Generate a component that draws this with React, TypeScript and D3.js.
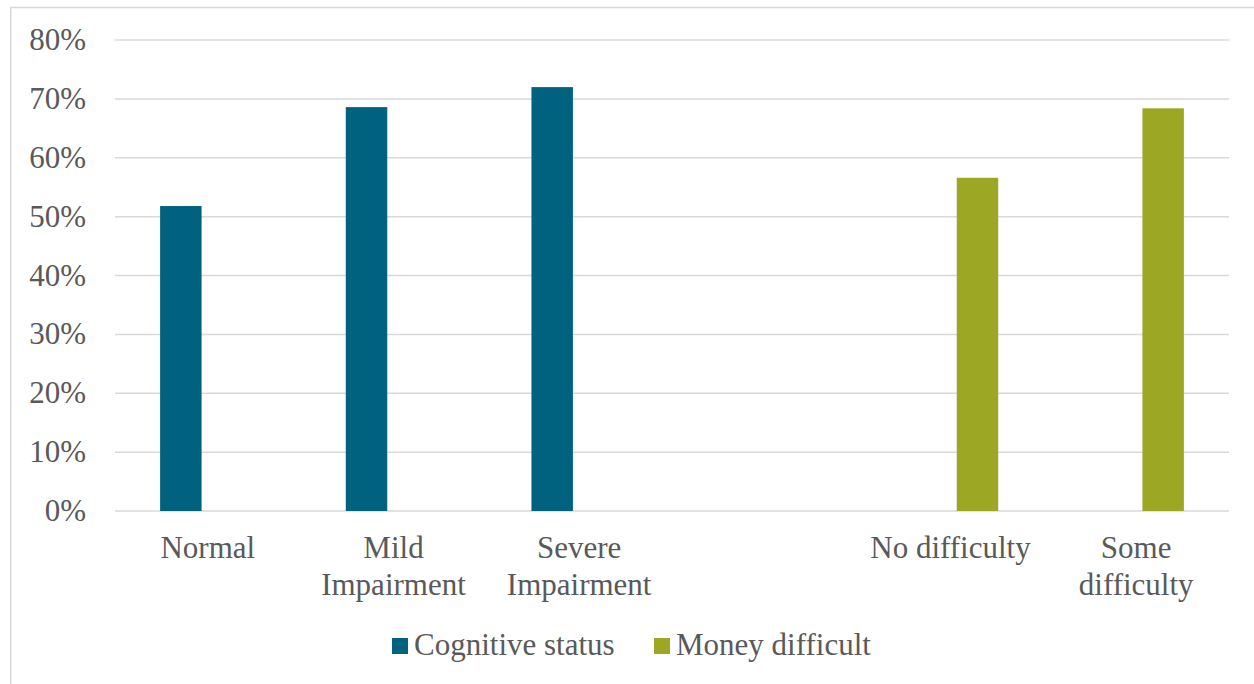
import { useEffect, useRef } from "react"
import * as d3 from "d3"

const categories = ["Normal", "Mild Impairment", "Severe Impairment", "", "No difficulty", "Some difficulty"]
const categoryLines = [["Normal"], ["Mild", "Impairment"], ["Severe", "Impairment"], [], ["No difficulty"], ["Some", "difficulty"]]
const seriesNames = ["Cognitive status", "Money difficult"]
const seriesColors = ["#00627F", "#9CA823"]
const cognitiveValues = [0.518, 0.686, 0.72, null, null, null]
const moneyValues = [null, null, null, null, 0.566, 0.684]
const yTicks = [0, 0.1, 0.2, 0.3, 0.4, 0.5, 0.6, 0.7, 0.8]

export default function App() {
  const svgRef = useRef<SVGSVGElement>(null)

  useEffect(() => {
    if (!svgRef.current) return
    const svg = d3.select(svgRef.current)
    svg.selectAll("*").remove()

    const width = 1254
    const height = 684
    const margin = { top: 40, right: 25, bottom: 173, left: 115 }
    const innerWidth = width - margin.left - margin.right
    const innerHeight = height - margin.top - margin.bottom
    const font = "Liberation Serif"
    const fontSize = "31px"
    const textColor = "#595959"

    // chart frame
    svg
      .append("rect")
      .attr("x", 10.75)
      .attr("y", 7.5)
      .attr("width", width + 20)
      .attr("height", height + 20)
      .attr("fill", "none")
      .attr("stroke", "#d9d9d9")
      .attr("stroke-width", 1.5)

    const x = d3.scaleBand().domain(categories.map((c, i) => c + i)).range([0, innerWidth]).padding(0)
    const clusterFrac = 0.514
    const sub = d3
      .scaleBand()
      .domain(seriesNames)
      .range([(x.bandwidth() * (1 - clusterFrac)) / 2, (x.bandwidth() * (1 + clusterFrac)) / 2])
      .paddingInner(0.2315)
      .paddingOuter(0)
    const y = d3.scaleLinear().domain([0, 0.8]).range([innerHeight, 0])

    const g = svg.append("g").attr("transform", `translate(${margin.left},${margin.top})`)

    // gridlines
    g.selectAll("line.grid")
      .data(yTicks)
      .join("line")
      .attr("class", "grid")
      .attr("x1", 0)
      .attr("x2", innerWidth)
      .attr("y1", (d) => y(d))
      .attr("y2", (d) => y(d))
      .attr("stroke", "#d9d9d9")
      .attr("stroke-width", 1.5)

    // y labels
    const fmt = d3.format(".0%")
    g.selectAll("text.ylab")
      .data(yTicks)
      .join("text")
      .attr("class", "ylab")
      .attr("x", -29)
      .attr("y", (d) => y(d) + 10)
      .attr("text-anchor", "end")
      .attr("font-family", font)
      .attr("font-size", fontSize)
      .attr("fill", textColor)
      .text((d) => fmt(d))

    // bars
    const allSeries = [cognitiveValues, moneyValues]
    allSeries.forEach((vals, si) => {
      const data = vals
        .map((v, i) => ({ key: categories[i] + i, value: v }))
        .filter((d) => d.value != null) as { key: string; value: number }[]
      g.selectAll(`rect.s${si}`)
        .data(data)
        .join("rect")
        .attr("class", `s${si}`)
        .attr("x", (d) => (x(d.key) || 0) + (sub(seriesNames[si]) || 0))
        .attr("y", (d) => y(d.value))
        .attr("width", sub.bandwidth())
        .attr("height", (d) => innerHeight - y(d.value))
        .attr("fill", seriesColors[si])
    })

    // category labels
    categories.forEach((c, i) => {
      const cx = (x(c + i) || 0) + x.bandwidth() / 2
      const t = g
        .append("text")
        .attr("text-anchor", "middle")
        .attr("font-family", font)
        .attr("font-size", fontSize)
        .attr("fill", textColor)
      categoryLines[i].forEach((line, li) => {
        t.append("tspan")
          .attr("x", cx)
          .attr("y", innerHeight + 47 + li * 37)
          .text(line)
      })
    })

    // legend
    const legendItems = [
      { name: seriesNames[0], color: seriesColors[0], x: 392 },
      { name: seriesNames[1], color: seriesColors[1], x: 654 },
    ]
    legendItems.forEach((item) => {
      svg
        .append("rect")
        .attr("x", item.x)
        .attr("y", 638)
        .attr("width", 16)
        .attr("height", 16)
        .attr("fill", item.color)
      svg
        .append("text")
        .attr("x", item.x + 22)
        .attr("y", 655)
        .attr("font-family", font)
        .attr("font-size", fontSize)
        .attr("fill", textColor)
        .text(item.name)
    })
  }, [])

  return (
    <svg
      ref={svgRef}
      width={1254}
      height={684}
      style={{ position: "absolute", left: 0, top: 0, background: "#fff" }}
    />
  )
}
